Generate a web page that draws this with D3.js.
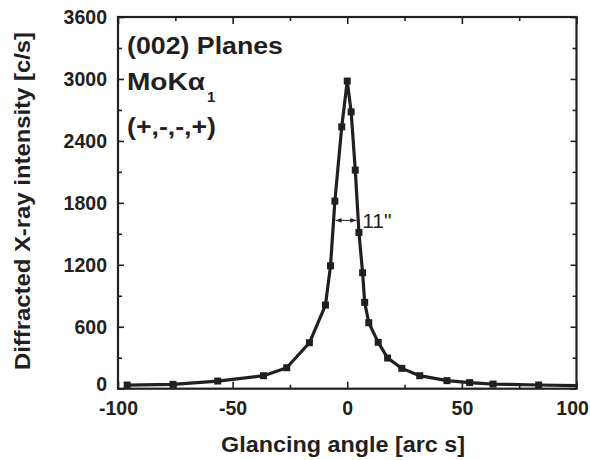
<!DOCTYPE html>
<html>
<head>
<meta charset="utf-8">
<script src="https://cdn.jsdelivr.net/npm/d3@7"></script>
<style>
  html, body { margin: 0; padding: 0; background: #fff; }
  svg { display: block; }
  text { font-family: Arial, "Liberation Sans", Helvetica, sans-serif; fill: #231f20; }
</style>
</head>
<body>
<svg id="chart" width="590" height="460"></svg>
<script>
// Rocking curve of the (002) planes, MoKα1, (+,-,-,+) setting
const angles    = [-96, -76, -56.5, -36.5, -26.4, -16.5, -9.5, -7.3, -5.4, -2.4, 0, 1.7, 3.5, 5.1, 6.7, 7.6, 9.4, 13.5, 17.6, 23.8, 31.6, 43.5, 53.4, 63.6, 83.5, 103];
const intensity = [35, 42, 74, 126, 203, 445, 810, 1190, 1817, 2536, 2980, 2681, 2117, 1513, 1123, 836, 639, 449, 297, 197, 126, 78, 59, 45, 36, 28];

const xTicks      = [-100, -50, 0, 50, 100];
const xMinorTicks = [-75, -25, 25, 75];
const yTicks      = [0, 600, 1200, 1800, 2400, 3000, 3600];
const yMinorTicks = [300, 900, 1500, 2100, 2700, 3300];

const fwhmLevel = 1630;   // level of the width marker
const fwhmLabel = '11"';

const W = 590, H = 460;
const margin = { left: 118, top: 17, right: 13.5, bottom: 71.3 };
const ink = "#231f20";

const svg = d3.select("#chart");
const x = d3.scaleLinear().domain([-100, 100]).range([margin.left, W - margin.right]);
const y = d3.scaleLinear().domain([0, 3600]).range([H - margin.bottom, margin.top]);

// plain hyphen for negative numbers
const fmt = d => String(d);

svg.append("defs").append("clipPath").attr("id", "plot-clip")
  .append("rect")
  .attr("x", x(-100)).attr("y", y(3600))
  .attr("width", x(100) - x(-100)).attr("height", y(0) - y(3600));

// Inward ticks on all four sides
function ticks(axisFn, scale, values, size, transform) {
  const g = svg.append("g")
    .attr("transform", transform)
    .call(axisFn(scale).tickValues(values).tickSize(size).tickFormat(""));
  g.select(".domain").remove();
  g.selectAll(".tick line").attr("stroke", ink).attr("stroke-width", 1.6);
}
const bottomY = y(0), topY = y(3600), leftX = x(-100), rightX = x(100);
ticks(d3.axisTop,   x, xTicks, 7,      `translate(0,${bottomY})`);
ticks(d3.axisTop,   x, xMinorTicks, 4, `translate(0,${bottomY})`);
ticks(d3.axisBottom, x, xTicks, 7,     `translate(0,${topY})`);
ticks(d3.axisBottom, x, xMinorTicks, 4,`translate(0,${topY})`);
ticks(d3.axisRight, y, yTicks, 6,      `translate(${leftX},0)`);
ticks(d3.axisRight, y, yMinorTicks, 4, `translate(${leftX},0)`);
ticks(d3.axisLeft,  y, yTicks, 6,      `translate(${rightX},0)`);
ticks(d3.axisLeft,  y, yMinorTicks, 4, `translate(${rightX},0)`);

// Frame
svg.append("rect")
  .attr("x", leftX).attr("y", topY)
  .attr("width", rightX - leftX).attr("height", bottomY - topY)
  .attr("fill", "none").attr("stroke", ink).attr("stroke-width", 2.2);

// Tick labels
const xl = svg.append("g")
  .attr("transform", `translate(0,${bottomY})`)
  .call(d3.axisBottom(x).tickValues(xTicks).tickSize(0).tickPadding(0).tickFormat(fmt));
xl.select(".domain").remove();
xl.selectAll("text").attr("y", 26.5).attr("dy", 0)
  .style("font-size", "19.5px").style("font-weight", "bold").attr("fill", ink);
// keep the last label inside the page
xl.selectAll(".tick").each(function () {
  const t = d3.select(this).select("text");
  const bb = this.getBBox();
  const tr = this.transform.baseVal.consolidate().matrix.e;
  const right = tr + bb.x + bb.width;
  if (right > W - 1) t.attr("x", -(right - (W - 1)));
});

const yl = svg.append("g")
  .attr("transform", `translate(${leftX},0)`)
  .call(d3.axisLeft(y).tickValues(yTicks).tickSize(0).tickPadding(0).tickFormat(fmt));
yl.select(".domain").remove();
yl.selectAll("text").attr("x", -11).attr("dy", "0.34em")
  .style("font-size", "19.5px").style("font-weight", "bold").attr("fill", ink);
// lift the zero label clear of the x labels
yl.selectAll(".tick").filter(d => d === 0).select("text").attr("y", -5);

// Axis titles
svg.append("text")
  .attr("x", 343).attr("y", 452)
  .attr("text-anchor", "middle")
  .attr("textLength", 244).attr("lengthAdjust", "spacingAndGlyphs")
  .style("font-size", "22.5px").style("font-weight", "bold")
  .text("Glancing angle [arc s]");

svg.append("text")
  .attr("transform", `translate(30,201) rotate(-90)`)
  .attr("text-anchor", "middle")
  .attr("textLength", 338).attr("lengthAdjust", "spacingAndGlyphs")
  .style("font-size", "22px").style("font-weight", "bold")
  .text("Diffracted X-ray intensity [c/s]");

// Curve
const pts = angles.map((a, i) => [a, intensity[i]]);
const plot = svg.append("g").attr("clip-path", "url(#plot-clip)");
plot.append("path")
  .datum(pts)
  .attr("fill", "none").attr("stroke", ink).attr("stroke-width", 3.2)
  .attr("stroke-linejoin", "round")
  .attr("d", d3.line().x(d => x(d[0])).y(d => y(d[1])));
const ms = 7;
plot.selectAll("rect.pt").data(pts).join("rect")
  .attr("class", "pt")
  .attr("x", d => x(d[0]) - ms / 2).attr("y", d => y(d[1]) - ms / 2)
  .attr("width", ms).attr("height", ms).attr("fill", ink);

// Width marker between the two flanks at fwhmLevel
function crossing(side) {
  const idxPeak = intensity.indexOf(d3.max(intensity));
  const seq = side < 0 ? pts.slice(0, idxPeak + 1) : pts.slice(idxPeak).reverse();
  for (let i = 0; i < seq.length - 1; i++) {
    const [a0, v0] = seq[i], [a1, v1] = seq[i + 1];
    if ((v0 - fwhmLevel) * (v1 - fwhmLevel) <= 0) {
      return a0 + (fwhmLevel - v0) / (v1 - v0) * (a1 - a0);
    }
  }
}
const xa = x(crossing(-1)) + 2, xb = x(crossing(1)) - 2, ya = y(fwhmLevel);
const defs = svg.select("defs");
defs.append("marker").attr("id", "ah").attr("viewBox", "0 0 10 10")
  .attr("refX", 10).attr("refY", 5).attr("markerWidth", 6).attr("markerHeight", 6)
  .attr("orient", "auto-start-reverse")
  .append("path").attr("d", "M0,1 L10,5 L0,9 Z").attr("fill", ink);
svg.append("line")
  .attr("x1", xa).attr("x2", xb).attr("y1", ya).attr("y2", ya)
  .attr("stroke", ink).attr("stroke-width", 1)
  .attr("marker-start", "url(#ah)").attr("marker-end", "url(#ah)");
svg.append("text")
  .attr("x", xb + 6).attr("y", ya + 8)
  .style("font-size", "21px")
  .text(fwhmLabel);

// Annotations
const note = svg.append("g").style("font-weight", "bold").style("font-size", "23px");
note.append("text").attr("x", 127).attr("y", 54)
  .attr("textLength", 156).attr("lengthAdjust", "spacingAndGlyphs")
  .text("(002) Planes");
const mo = note.append("text").attr("x", 127).attr("y", 90);
mo.append("tspan").attr("textLength", 78).attr("lengthAdjust", "spacingAndGlyphs").text("MoKα");
mo.append("tspan").attr("dx", 2).attr("dy", 11.5).style("font-size", "15px").text("1");
note.append("text").attr("x", 127).attr("y", 135)
  .attr("textLength", 89).attr("lengthAdjust", "spacingAndGlyphs")
  .text("(+,-,-,+)");
</script>
</body>
</html>
